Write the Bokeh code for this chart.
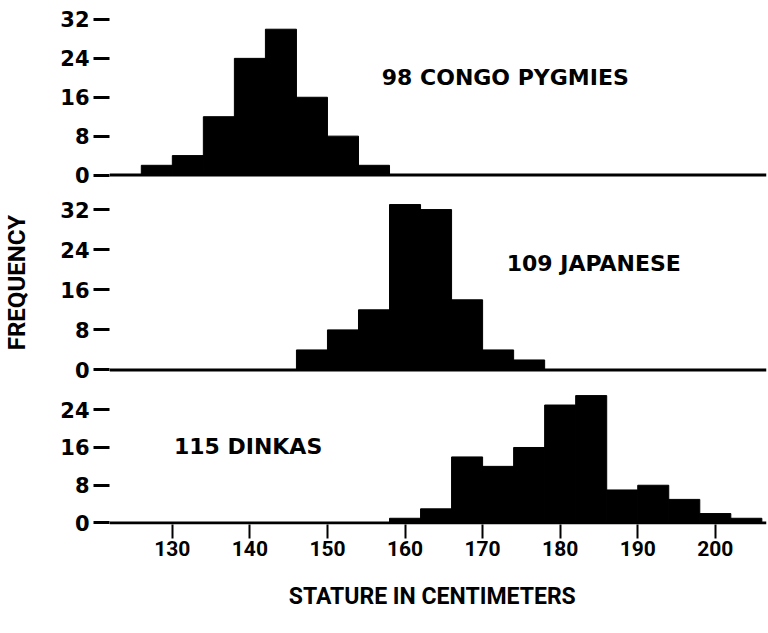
from bokeh.plotting import figure
from bokeh.layouts import column
from bokeh.models import Span, Label, FixedTicker, Range1d
from bokeh.embed import file_html
from bokeh.resources import INLINE

# ---- data (4 cm class intervals) ----
pygmy_edges = [126, 130, 134, 138, 142, 146, 150, 154, 158]
pygmy_counts = [2, 4, 12, 24, 30, 16, 8, 2]

japanese_edges = [146, 150, 154, 158, 162, 166, 170, 174, 178]
japanese_counts = [4, 8, 12, 33, 32, 14, 4, 2]

dinka_edges = [158, 162, 166, 170, 174, 178, 182, 186, 190, 194, 198, 202, 206]
dinka_counts = [1, 3, 14, 12, 16, 25, 27, 7, 8, 5, 2, 1]

x_ticks = [130, 140, 150, 160, 170, 180, 190, 200]
y_ticks_big = [0, 8, 16, 24, 32]
y_ticks_small = [0, 8, 16, 24]

labels = ["98 CONGO  PYGMIES", "109  JAPANESE", "115  DINKAS"]
x_label = "STATURE  IN  CENTIMETERS"
y_label = "FREQUENCY"

TICK_FONT = "DejaVu Sans"
XT_FONT = "Roboto"
ANN_FONT = "DejaVu Sans"

X_RANGE = (121.9, 206.6)


def make_panel(height, yr, edges, counts, yticks, label, lx, ly,
               top_border, bottom_border, bottom_axis=False, ylabel=None):
    p = figure(width=768, height=height, output_backend="svg",
               toolbar_location=None,
               x_range=Range1d(*X_RANGE), y_range=Range1d(*yr),
               x_axis_location="below" if bottom_axis else None,
               min_border_left=108, min_border_right=2,
               min_border_top=top_border, min_border_bottom=bottom_border)
    p.outline_line_color = None
    p.grid.visible = False
    p.background_fill_color = "white"
    p.border_fill_color = "white"

    p.quad(left=edges[:-1], right=edges[1:], top=counts, bottom=0,
           fill_color="black", line_color="black", line_width=1)
    p.add_layout(Span(location=0, dimension="width", line_color="black",
                      line_width=3))

    ya = p.yaxis[0]
    ya.ticker = FixedTicker(ticks=yticks)
    ya.axis_line_color = None
    ya.major_tick_in = 0
    ya.major_tick_out = 16
    ya.major_tick_line_width = 3
    ya.minor_tick_line_color = None
    ya.major_label_standoff = 4
    ya.major_label_text_font = TICK_FONT
    ya.major_label_text_font_style = "bold"
    ya.major_label_text_font_size = "21px"
    ya.major_label_text_color = "black"
    if ylabel:
        ya.axis_label = ylabel
        ya.axis_label_text_font = XT_FONT
        ya.axis_label_text_font_style = "bold"
        ya.axis_label_text_font_size = "24px"
        ya.axis_label_text_color = "black"
        ya.axis_label_standoff = 26

    if bottom_axis:
        xa = p.xaxis[0]
        xa.ticker = FixedTicker(ticks=x_ticks)
        xa.axis_line_color = None
        xa.major_tick_in = 0
        xa.major_tick_out = 14
        xa.major_tick_line_width = 2
        xa.minor_tick_line_color = None
        xa.major_label_standoff = 2
        xa.major_label_text_font = XT_FONT
        xa.major_label_text_font_style = "bold"
        xa.major_label_text_font_size = "21px"
        xa.major_label_text_color = "black"
        xa.axis_label = x_label
        xa.axis_label_text_font = XT_FONT
        xa.axis_label_text_font_style = "bold"
        xa.axis_label_text_font_size = "23px"
        xa.axis_label_text_color = "black"
        xa.axis_label_standoff = 24

    p.add_layout(Label(x=lx, y=ly, text=label, text_font=ANN_FONT,
                       text_font_style="bold", text_font_size="22px",
                       text_color="black", text_baseline="alphabetic"))
    return p


p1 = make_panel(188, (-0.51, 34.26), pygmy_edges, pygmy_counts, y_ticks_big,
                labels[0], 157.0, 20.1, 8, 11)
p2 = make_panel(196, (-0.5, 35.4), japanese_edges, japanese_counts, y_ticks_big,
                labels[1], 173.1, 21.3, 4, 12, ylabel=y_label)
p3 = make_panel(249, (-0.32, 28.5), dinka_edges, dinka_counts, y_ticks_small,
                labels[2], 130.2, 16.2, 4, 109, bottom_axis=True)

layout = column(p1, p2, p3, spacing=0)
open("out.html", "w").write(file_html(layout, INLINE))
